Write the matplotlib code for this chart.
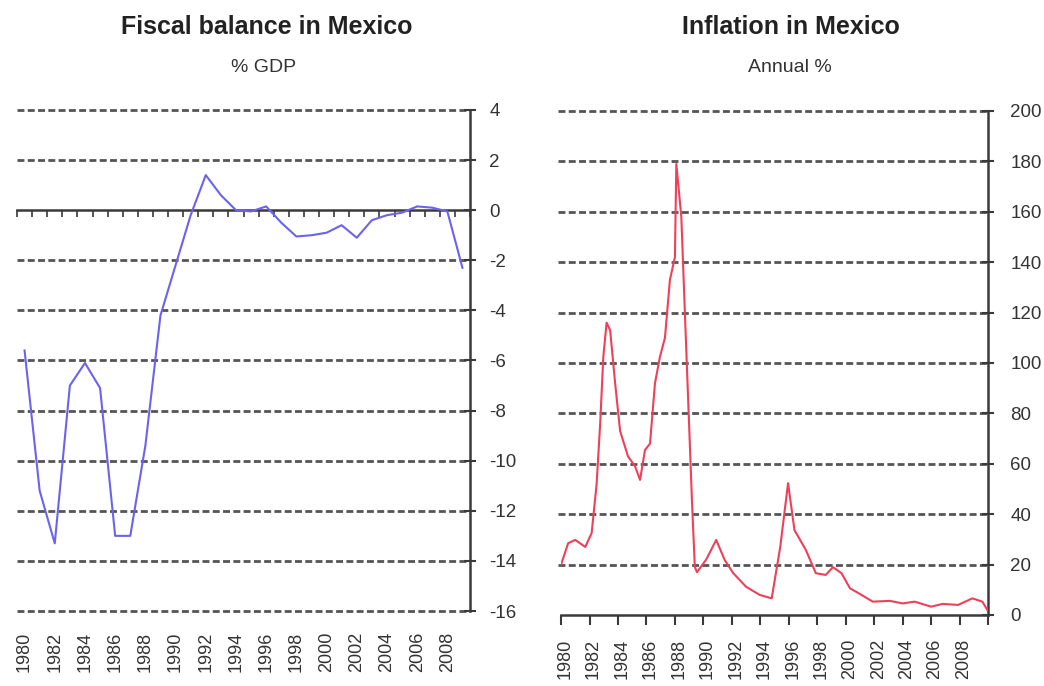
import matplotlib
matplotlib.use("Agg")
import matplotlib.pyplot as plt
import matplotlib.transforms as mtransforms
import numpy as np

plt.rcParams['font.family'] = ['Liberation Sans', 'DejaVu Sans']
plt.rcParams['lines.scale_dashes'] = False

# fiscal balance, % of GDP, one value per year
fiscal_years = list(range(1980, 2010))
fiscal_balance = [-5.6, -11.2, -13.3, -7.0, -6.1, -7.1, -13.0, -13.0, -9.4, -4.2,
                  -2.2, -0.2, 1.4, 0.6, 0.0, -0.05, 0.15, -0.5, -1.05, -1.0,
                  -0.9, -0.6, -1.1, -0.4, -0.2, -0.1, 0.15, 0.1, -0.05, -2.3]

# inflation, annual % (decimal year, value)
infl_time = [1980.0, 1980.5, 1981.0, 1981.7, 1982.15, 1982.5, 1982.75, 1982.97,
             1983.2, 1983.45, 1983.8, 1984.15, 1984.7, 1985.2, 1985.55, 1985.9,
             1986.25, 1986.6, 1986.95, 1987.3, 1987.65, 1988.0, 1988.1, 1988.45,
             1988.8, 1989.2, 1989.4, 1989.55, 1990.2, 1990.9, 1991.5, 1992.1,
             1993.0, 1993.95, 1994.8, 1995.4, 1995.95, 1996.4, 1997.2, 1997.9,
             1998.6, 1999.1, 1999.7, 2000.3, 2001.1, 2001.9, 2003.1, 2004.0,
             2004.85, 2006.0, 2006.8, 2007.9, 2008.9, 2009.6, 2009.95]
infl_value = [20, 28.5, 29.8, 27, 32.5, 52, 76, 102.5,
              116, 113, 92, 73, 63, 59, 53.6, 65.5,
              68, 92, 102.5, 110, 133, 142, 179, 158,
              105, 45, 19, 17, 22, 29.8, 21.8, 16.6,
              11.2, 8, 6.6, 27, 52.3, 33.7, 25.8, 16.6,
              15.9, 19, 16.6, 10.6, 8, 5.3, 5.6, 4.6,
              5.3, 3.3, 4.4, 4.0, 6.6, 5.3, 2]

label_years = list(range(1980, 2010, 2))

grid_color = '#555555'
axis_color = '#3a3a3a'
grid_dash = (0, (5.0, 2.4))

fig = plt.figure(figsize=(10.44, 6.86), dpi=100)

# ---------------- fiscal balance ----------------
ax1 = fig.add_axes([0.0163, 0.1093, 0.4339, 0.7304])
ax1.set_xlim(1979.5, 2009.5)
ax1.set_ylim(-16, 4)
for v in range(-16, 5, 2):
    if v != 0:
        ax1.axhline(v, color=grid_color, lw=2.0, linestyle=grid_dash,
                    zorder=1, clip_on=False)
ax1.plot(fiscal_years, fiscal_balance, color='#6b63ee', lw=1.5, zorder=3)

for s in ['left', 'top']:
    ax1.spines[s].set_visible(False)
ax1.spines['bottom'].set_position(('data', 0))
ax1.spines['bottom'].set_color(axis_color)
ax1.spines['bottom'].set_linewidth(1.8)
ax1.spines['right'].set_color(axis_color)
ax1.spines['right'].set_linewidth(1.8)

ax1.yaxis.tick_right()
ax1.set_yticks(range(-16, 5, 2))
ax1.set_yticklabels([str(v) for v in range(-16, 5, 2)])
ax1.tick_params(axis='y', direction='inout', length=8, width=1.5,
                color=axis_color, pad=10, labelsize=13.5, labelcolor='#333333')
ax1.set_xticks(np.arange(1979.5, 2010, 1))
ax1.tick_params(axis='x', direction='out', length=5, width=1.2,
                color=axis_color, labelbottom=False)

sec = ax1.secondary_xaxis('bottom')
sec.set_xticks(label_years)
sec.set_xticklabels([str(y) for y in label_years], rotation=90, va='top')
sec.tick_params(length=0, pad=15, labelsize=13, labelcolor='#333333')
sec.spines['bottom'].set_visible(False)

# ---------------- inflation ----------------
ax2 = fig.add_axes([0.5374, 0.1035, 0.409, 0.7347])
ax2.set_xlim(1980, 2010)
ax2.set_ylim(0, 200)
for v in range(20, 201, 20):
    ax2.axhline(v, xmin=-0.008, color=grid_color, lw=2.0, linestyle=grid_dash,
                zorder=1, clip_on=False)
ax2.plot(infl_time, infl_value, color='#ee4058', lw=1.5, zorder=3)

for s in ['left', 'top']:
    ax2.spines[s].set_visible(False)
for s in ['bottom', 'right']:
    ax2.spines[s].set_color(axis_color)
    ax2.spines[s].set_linewidth(1.8)

ax2.yaxis.tick_right()
ax2.set_yticks(range(0, 201, 20))
ax2.tick_params(axis='y', direction='inout', length=8, width=1.5,
                color=axis_color, pad=12, labelsize=13.5, labelcolor='#333333')
ax2.set_xticks(list(range(1980, 2011, 2)))
ax2.set_xticklabels([str(y) for y in label_years] + [''], rotation=90, va='top')
ax2.tick_params(axis='x', direction='out', length=7, width=1.5,
                color=axis_color, pad=10, labelsize=13, labelcolor='#333333')
shift = mtransforms.ScaledTranslation(4 / 100, 0, fig.dpi_scale_trans)
for lab in ax2.get_xticklabels():
    lab.set_transform(lab.get_transform() + shift)

# ---------------- titles ----------------
fig.text(266.5 / 1044, 1 - 27 / 686, 'Fiscal balance in Mexico', ha='center',
         va='center', fontsize=18, fontweight='bold', color='#222222')
fig.text(264 / 1044, 1 - 67 / 686, '% GDP', ha='center', va='center',
         fontsize=14, color='#333333')
fig.text(791 / 1044, 1 - 27 / 686, 'Inflation in Mexico', ha='center',
         va='center', fontsize=18, fontweight='bold', color='#222222')
fig.text(790 / 1044, 1 - 67 / 686, 'Annual %', ha='center', va='center',
         fontsize=14, color='#333333')

fig.savefig('out.png', dpi=100)
